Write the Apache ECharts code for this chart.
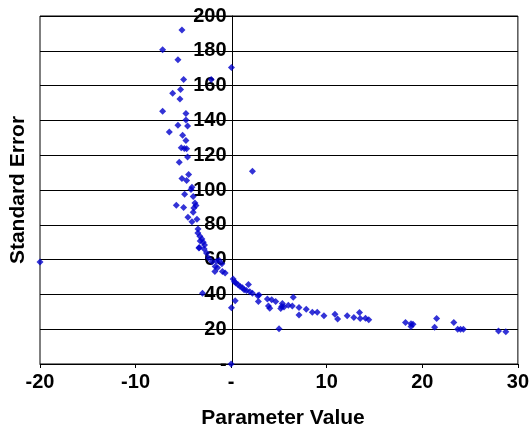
<!DOCTYPE html>
<html>
<head>
<meta charset="utf-8">
<script src="https://cdn.jsdelivr.net/npm/echarts@6/dist/echarts.min.js"></script>
<style>html,body{margin:0;padding:0;background:#fff}#c{width:532px;height:431px}</style>
</head>
<body>
<div id="c"></div>
<script>
const xTitle = "Parameter Value";
const yTitle = "Standard Error";
const xTicks = [-20, -10, 0, 10, 20, 30];
const yTicks = [0, 20, 40, 60, 80, 100, 120, 140, 160, 180, 200];
const paramValues = [
-20.0,-5.15,-7.17,-5.57,0.03,-4.97,-2.09,-5.29,-6.12,-5.36,-7.17,-4.73,-4.73,-5.57,-4.56,
-6.47,-5.08,-4.73,-5.22,-4.9,-4.66,-4.56,-5.43,2.23,-4.45,-5.15,-4.66,-4.1,-4.2,-4.87,
-3.97,-3.79,-3.68,-3.9,-3.97,-5.74,-4.97,-4.52,-3.58,-4.1,-3.47,-3.48,-3.27,-3.06,-2.92,
-2.79,-3.34,-3.24,-3.37,-2.82,-2.58,-2.37,-2.01,-1.53,-1.25,-0.97,-1.67,-1.43,-1.7,-0.91,
-0.63,0.21,0.35,0.49,0.73,0.94,1.18,1.36,1.81,1.6,1.95,2.23,2.79,-3.0,0.42,
0.03,0,2.92,2.85,3.79,4.24,4.66,3.9,4.04,5.36,5.29,5.19,5.53,5.98,6.4,
6.5,7.1,7.1,7.86,8.49,9.01,9.71,5.01,10.86,11.14,12.14,12.84,13.43,13.5,14.06,
14.4,18.24,18.82,18.82,19.03,21.5,21.29,23.3,23.7,24.0,24.3,27.97,28.74
];
const stdErrors = [
58.6,192,180.6,174.8,170.4,163.5,163.5,157.7,155.6,152.3,145.2,143.9,140.2,137.2,136.8,
133.3,131.4,128.4,124.3,123.9,123.7,118.9,116,110.8,108.9,106.6,105.5,101.6,100.3,97.6,
96.3,92.6,91.1,89.7,87.2,91.2,89.9,84.3,83.2,81.8,77.6,75.3,73.4,71.9,69.9,
68.4,67,70.7,66.7,66.1,63.8,60.9,58.8,59,59.5,57.6,56.1,55.3,53.2,53.2,
52.3,48.8,47.3,46.5,45.5,44.6,43.8,42.7,45.7,42.2,41.5,40.7,39.2,40.7,36.3,
32.3,0,39.6,35.9,37.3,36.9,35.9,33.4,32.1,34.8,33,31.9,32.7,33.8,33.4,
38.4,32.4,28.2,31.5,29.8,29.8,27.7,20.2,28.6,25.8,27.7,26.7,29.6,26.1,26.3,
25.4,23.8,23.1,21.5,22.9,26.1,21.1,23.8,20,20,20,19,18.6
];

const points = paramValues.map((x, i) => [x, stdErrors[i]]);
const fontFam = '"Liberation Sans", Arial, sans-serif';
const gridLeft = 40;

const chart = echarts.init(document.getElementById('c'), null, {renderer: 'canvas'});
const option = {
  animation: false,
  backgroundColor: '#fff',
  grid: {left: gridLeft, right: 12, top: 16, bottom: 67, show: true, borderColor: '#000', borderWidth: 1},
  xAxis: {
    type: 'value',
    min: xTicks[0], max: xTicks[xTicks.length - 1], interval: 10,
    axisLine: {show: true, onZero: false, lineStyle: {color: '#000', width: 1}},
    axisTick: {show: true, inside: false, length: 4, lineStyle: {color: '#000'}},
    splitLine: {show: false},
    axisLabel: {
      margin: 8, color: '#000', fontSize: 20, fontWeight: 'bold', fontFamily: fontFam,
      formatter: v => v === 0 ? '-' : String(v)
    }
  },
  yAxis: {
    type: 'value',
    position: 'left',
    offset: 0,
    min: yTicks[0], max: yTicks[yTicks.length - 1], interval: 20,
    axisLine: {show: true, onZero: false, lineStyle: {color: '#000', width: 1}},
    axisTick: {show: true, inside: false, length: 4, lineStyle: {color: '#000'}},
    splitLine: {show: true, lineStyle: {color: '#000', width: 1}},
    axisLabel: {
      margin: 6, color: '#000', fontSize: 20, fontWeight: 'bold', fontFamily: fontFam,
      formatter: v => v === 0 ? '-' : String(v)
    }
  },
  graphic: [
    {type: 'text', x: 283, y: 418,
     style: {text: xTitle, fontSize: 21, fontWeight: 'bold', fontFamily: fontFam,
             fill: '#000', textAlign: 'center', textVerticalAlign: 'middle'}},
    {type: 'text', x: 18, y: 190, rotation: Math.PI / 2,
     style: {text: yTitle, fontSize: 21, fontWeight: 'bold', fontFamily: fontFam,
             fill: '#000', textAlign: 'center', textVerticalAlign: 'middle'}}
  ],
  series: [{
    type: 'scatter',
    data: points,
    symbol: 'diamond',
    symbolSize: 7,
    clip: false,
    itemStyle: {color: '#0000CC'}
  }]
};
chart.setOption(option);
// move the y axis (line, ticks and labels) to x = 0, as in the reference
const zeroPx = chart.convertToPixel({xAxisIndex: 0}, 0);
chart.setOption({yAxis: {offset: -(zeroPx - gridLeft)}});
</script>
</body>
</html>
